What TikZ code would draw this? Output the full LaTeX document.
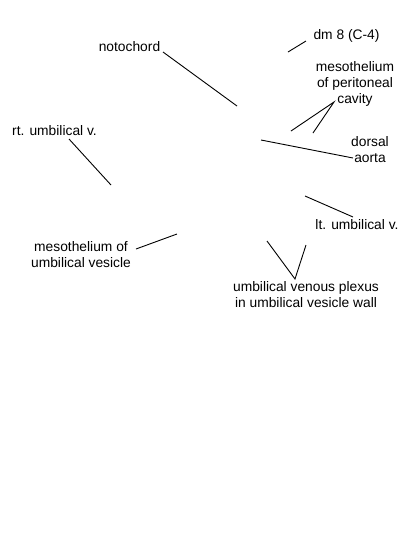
\documentclass[tikz,border=0pt]{standalone}
\usepackage{fontspec}
\setmainfont{Liberation Sans}
\begin{document}
\begin{tikzpicture}[x=1pt,y=-1pt,
  lbl/.style={inner sep=0pt,align=center,font=\fontsize{13.8}{16}\selectfont},
  ldr/.style={line width=0.9pt,black}]
\useasboundingbox (0,0) rectangle (400,550);
% labels
\node[lbl] (noto) at (129.5,47) {notochord};
\node[lbl] (dm) at (346.5,36) {dm 8 (C-4)};
\node[lbl] (mpc) at (355,84) {mesothelium\\of peritoneal\\cavity};
\node[lbl] (da) at (370,149.5) {dorsal\\aorta};
\node[lbl] (ruv) at (54.5,131) {rt. umbilical v.};
\node[lbl] (muv) at (81,255) {mesothelium of\\umbilical vesicle};
\node[lbl] (luv) at (357,225) {lt. umbilical v.};
\node[lbl] (uvp) at (306,295) {umbilical venous plexus\\in umbilical vesicle wall};
% leader ends
\coordinate (notoA) at (163,52);  \coordinate (notoB) at (237,106);
\coordinate (dmA) at (306,41);    \coordinate (dmB) at (288,52);
\coordinate (mpcA) at (334,102);  \coordinate (mpcB) at (291,131); \coordinate (mpcC) at (313,133);
\coordinate (daA) at (353,158);   \coordinate (daB) at (261,140);
\coordinate (ruvA) at (69,139);   \coordinate (ruvB) at (111,185);
\coordinate (muvA) at (136,249);  \coordinate (muvB) at (177,234);
\coordinate (luvA) at (353,217);  \coordinate (luvB) at (305,196);
\coordinate (uvpA) at (295,279);  \coordinate (uvpB) at (267,241); \coordinate (uvpC) at (306,245);
% leaders
\draw[ldr] (notoA) -- (notoB);
\draw[ldr] (dmA) -- (dmB);
\draw[ldr] (mpcB) -- (mpcA) -- (mpcC);
\draw[ldr] (daA) -- (daB);
\draw[ldr] (ruvA) -- (ruvB);
\draw[ldr] (muvA) -- (muvB);
\draw[ldr] (luvA) -- (luvB);
\draw[ldr] (uvpB) -- (uvpA) -- (uvpC);
\end{tikzpicture}
\end{document}
